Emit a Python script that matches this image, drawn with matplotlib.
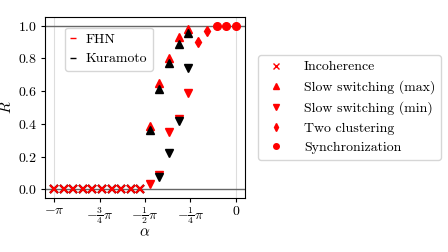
import numpy as np
import matplotlib
matplotlib.use("Agg")
import matplotlib.pyplot as plt
from matplotlib.lines import Line2D

plt.rcParams['font.family'] = 'serif'
plt.rcParams['font.serif'] = ['cmr10', 'DejaVu Serif']
plt.rcParams['mathtext.fontset'] = 'cm'
plt.rcParams['axes.formatter.use_mathtext'] = True

alpha = np.linspace(-np.pi, 0, 20)

# FHN (red)
fhn_incoh_idx = list(range(10))
fhn_incoh = [0.0] * 10
fhn_max_idx = [10, 11, 12, 13, 14]
fhn_max = [0.385, 0.65, 0.80, 0.93, 0.98]
fhn_min_idx = [10, 11, 12, 13, 14]
fhn_min = [0.033, 0.09, 0.35, 0.43, 0.59]
fhn_two_idx = [15, 16]
fhn_two = [0.90, 0.967]
fhn_sync_idx = [17, 18, 19]
fhn_sync = [1.0, 1.0, 1.0]

# Kuramoto (black)
kur_incoh_idx = list(range(10))
kur_incoh = [0.0] * 10
kur_max_idx = [10, 11, 12, 13, 14]
kur_max = [0.36, 0.61, 0.77, 0.89, 0.953]
kur_min_idx = [11, 12, 13, 14]
kur_min = [0.077, 0.22, 0.417, 0.74]

xtick_vals = [-np.pi, -0.75 * np.pi, -0.5 * np.pi, -0.25 * np.pi, 0]
xtick_labels = [r'$-\pi$', r'$-\frac{3}{4}\pi$', r'$-\frac{1}{2}\pi$', r'$-\frac{1}{4}\pi$', r'$0$']
ytick_vals = [0.0, 0.2, 0.4, 0.6, 0.8, 1.0]
ytick_labels = [r'$0.0$', r'$0.2$', r'$0.4$', r'$0.6$', r'$0.8$', r'$1.0$']

state_labels = ['Incoherence', 'Slow switching (max)', 'Slow switching (min)',
                'Two clustering', 'Synchronization']
state_markers = ['x', '^', 'v', 'd', 'o']

fig = plt.figure(figsize=(4.48, 2.52), dpi=100)
ax = fig.add_axes([0.1004, 0.213, 0.4466, 0.721])

ax.axvline(-np.pi, color='#dddddd', lw=0.8, zorder=0)
ax.axvline(0, color='#dddddd', lw=0.8, zorder=0)
ax.axhline(0, color='#666666', lw=1.0, zorder=1)
ax.axhline(1, color='#666666', lw=1.0, zorder=1)

ms = 5.5
ax.plot(alpha[kur_incoh_idx], kur_incoh, 'x', color='black', ms=ms, mew=1.5, zorder=2)
ax.plot(alpha[fhn_incoh_idx], fhn_incoh, 'x', color='red', ms=ms, mew=1.5, zorder=3)
ax.plot(alpha[fhn_max_idx], fhn_max, '^', color='red', ms=ms, zorder=2)
ax.plot(alpha[fhn_min_idx], fhn_min, 'v', color='red', ms=ms, zorder=2)
ax.plot(alpha[kur_max_idx], kur_max, '^', color='black', ms=ms, zorder=3)
ax.plot(alpha[kur_min_idx], kur_min, 'v', color='black', ms=ms, zorder=3)
ax.plot(alpha[fhn_two_idx], fhn_two, 'd', color='red', ms=ms, zorder=3)
ax.plot(alpha[fhn_sync_idx], fhn_sync, 'o', color='red', ms=ms, zorder=3)

ax.set_xlim(-1.05 * np.pi, 0.05 * np.pi)
ax.set_ylim(-0.055, 1.055)
ax.set_xticks(xtick_vals)
ax.set_xticklabels(xtick_labels, fontsize=10)
ax.set_yticks(ytick_vals)
ax.set_yticklabels(ytick_labels, fontsize=10)
ax.tick_params(length=3)
ax.tick_params(axis='x', pad=1.5)
ax.tick_params(axis='y', pad=2.5)
ax.set_xlabel(r'$\alpha$', fontsize=11, labelpad=0)
ax.set_ylabel(r'$R$', fontsize=11, labelpad=3)

h1 = [Line2D([], [], color='red', marker='_', ls='None', ms=5),
      Line2D([], [], color='black', marker='_', ls='None', ms=5)]
ax.legend(h1, ['FHN', 'Kuramoto'], loc='upper left', bbox_to_anchor=(0.1, 0.94),
          fontsize=10, handlelength=0.3, handletextpad=0.8, borderaxespad=0)

h2 = [Line2D([], [], color='red', marker=m, ls='None', ms=4) for m in state_markers]
fig.legend(h2, state_labels, loc='center left', bbox_to_anchor=(258 / 448, 1 - 107.5 / 252),
           fontsize=10, handlelength=1.8, handletextpad=1.1, borderaxespad=0)

fig.savefig('out.png', dpi=100)
